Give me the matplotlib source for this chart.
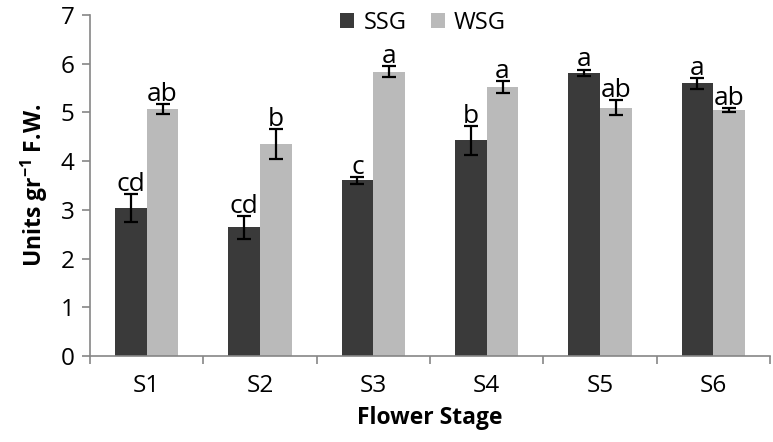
import matplotlib
matplotlib.use("Agg")
import matplotlib.pyplot as plt
import numpy as np

# data
stages = ["S1", "S2", "S3", "S4", "S5", "S6"]
ssg = [3.04, 2.64, 3.61, 4.43, 5.81, 5.60]
ssg_err = [0.29, 0.24, 0.07, 0.30, 0.07, 0.11]
wsg = [5.07, 4.35, 5.84, 5.52, 5.10, 5.05]
wsg_err = [0.10, 0.30, 0.12, 0.12, 0.16, 0.04]
ssg_letters = ["cd", "cd", "c", "b", "a", "a"]
wsg_letters = ["ab", "b", "a", "a", "ab", "ab"]

plt.rcParams["font.family"] = ["Open Sans", "DejaVu Sans"]
plt.rcParams["mathtext.default"] = "regular"

fig = plt.figure(figsize=(7.73, 4.42), dpi=100)
ax = fig.add_axes([90 / 773, 1 - 356 / 442, 680 / 773, 341 / 442])

x = np.arange(len(stages))
w = 0.28
axis_grey = "#868686"

ax.bar(x - w / 2, ssg, w, color="#3a3a3a", label="SSG", zorder=2)
ax.bar(x + w / 2, wsg, w, color="#bababa", label="WSG", zorder=2)
ax.errorbar(x - w / 2, ssg, yerr=ssg_err, fmt="none", ecolor="black",
            elinewidth=1.6, capsize=5, capthick=1.6, zorder=3)
ax.errorbar(x + w / 2, wsg, yerr=wsg_err, fmt="none", ecolor="black",
            elinewidth=1.6, capsize=5, capthick=1.6, zorder=3)

for i in range(len(stages)):
    ax.text(x[i] - w / 2, ssg[i] + ssg_err[i] - 0.06, ssg_letters[i],
            ha="center", va="bottom", fontsize=19)
    ax.text(x[i] + w / 2, wsg[i] + wsg_err[i] - 0.06, wsg_letters[i],
            ha="center", va="bottom", fontsize=19)

ax.set_xlim(-0.5, len(stages) - 0.5)
ax.set_ylim(0, 7)
ax.set_yticks(range(0, 8))
ax.set_xticks(x)
ax.set_xticklabels(stages)
ax.set_xticks(np.arange(-0.5, len(stages)), minor=True)
ax.tick_params(axis="x", which="major", length=0, pad=13, labelsize=17.5)
ax.tick_params(axis="x", which="minor", length=6, color=axis_grey, width=1.2)
ax.tick_params(axis="y", length=6, color=axis_grey, width=1.2, labelsize=17.5, pad=5)

for s in ["top", "right"]:
    ax.spines[s].set_visible(False)
for s in ["left", "bottom"]:
    ax.spines[s].set_color(axis_grey)
    ax.spines[s].set_linewidth(1.2)

ax.set_xlabel("Flower Stage", fontsize=16.5, fontweight="bold", labelpad=6)
ax.set_ylabel("Units gr$^{-1}$ F.W.", fontsize=16.5, fontweight="bold", labelpad=8)

ax.legend(loc="upper center", bbox_to_anchor=(0.49, 1.075), ncol=2, frameon=False,
          fontsize=17, handlelength=0.6, handleheight=0.6, handletextpad=0.4,
          columnspacing=1.0)

fig.savefig("out.png", dpi=100)
